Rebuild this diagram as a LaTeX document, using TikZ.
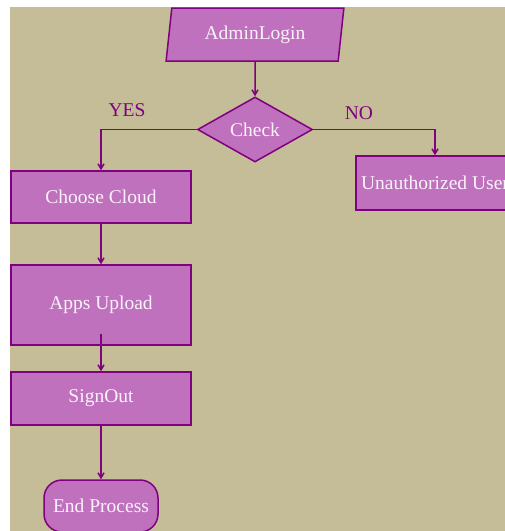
\documentclass[tikz,border=0pt]{standalone}
\usepackage{fontspec}
\setmainfont{Liberation Serif}
\usetikzlibrary{shapes.geometric,arrows.meta}
\definecolor{bgtan}{HTML}{C4BD97}
\definecolor{boxfill}{HTML}{BF71BD}
\definecolor{boxline}{HTML}{800080}
\definecolor{boxtext}{HTML}{FAF2FA}
\tikzset{
  base/.style={draw=boxline, line width=1.5pt, fill=boxfill, text=boxtext,
    font=\fontsize{19.5}{22}\selectfont, inner sep=0pt},
  procbox/.style={base, rectangle, minimum width=180pt},
  conn/.style={draw=boxline, line width=1.5pt, -{Straight Barb[length=5pt,width=6pt]}},
  lbl/.style={text=boxline, font=\fontsize{19.5}{22}\selectfont, inner sep=0pt}
}
\begin{document}
\begin{tikzpicture}[x=1pt,y=-1pt]
\clip (0,0) rectangle (505,531);
\fill[bgtan] (10,7) rectangle (505,531);

\node[base, trapezium, trapezium left angle=79, trapezium right angle=101,
      trapezium stretches=true, minimum width=178pt, minimum height=53pt]
      (login) at (255,34.5) {AdminLogin};
\node[base, diamond, minimum width=115pt, minimum height=65pt] (check) at (255,129.5) {Check};
\node[procbox, minimum height=52pt] (choose) at (101,197) {Choose Cloud};
\node[procbox, minimum height=80pt] (apps) at (101,305) {Apps Upload};
\node[procbox, minimum height=53pt] (signout) at (101,398.5) {SignOut};
\node[base, rectangle, minimum width=158pt, minimum height=54pt] (unauth) at (435,183) {Unauthorized User};
\node[base, rectangle, rounded corners=18pt, minimum width=114pt, minimum height=52pt] (endp) at (101,506) {End Process};

\node[lbl] (yes) at (127,110) {YES};
\node[lbl] (no) at (359,113) {NO};

\draw[conn] (login.south) -- (check.north);
\draw[conn] (check.west) -| (choose.north);
\draw[conn] (check.east) -| (unauth.north);
\draw[conn] (choose.south) -- (apps.north);
\draw[conn] ([yshift=12pt]apps.south) -- (signout.north);
\draw[conn] (signout.south) -- (endp.north);
\end{tikzpicture}
\end{document}
